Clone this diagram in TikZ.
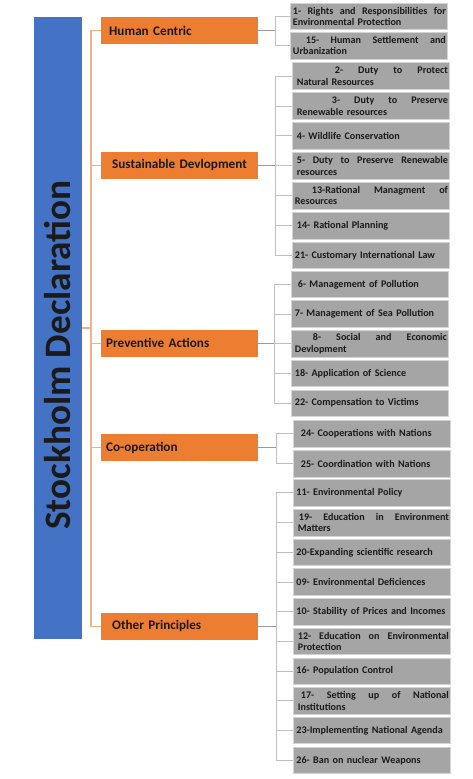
\documentclass[tikz,border=0pt]{standalone}
\usepackage{fontspec}
\setmainfont{Carlito}
\definecolor{bluebg}{HTML}{4472C4}
\definecolor{orng}{HTML}{ED7D31}
\definecolor{olin}{HTML}{F4B183}
\definecolor{gfill}{HTML}{A5A5A5}
\definecolor{gedge}{HTML}{D4D4D4}
\definecolor{glin}{HTML}{BFBFBF}
\definecolor{glind}{HTML}{9A9A9A}
\definecolor{tdark}{HTML}{1A1A1A}
\newlength\gw
\setlength\gw{154bp}
\newcommand\jl[2]{\hbox to \gw{\hspace*{#1}#2}}
\newcommand\h{\hfill}
\begin{document}
\begin{tikzpicture}[x=1bp,y=-1bp,
  gbox/.style={rectangle, fill=gfill, draw=gedge, line width=0.8bp, anchor=north west,
    minimum height=26.5bp, text width=154bp, inner xsep=1.5bp, inner ysep=0bp, align=left,
    font=\bfseries\fontsize{10.15}{11.4}\selectfont, text=tdark},
  obox/.style={rectangle, fill=orng, anchor=north west, minimum height=27bp,
    text width=147bp, inner xsep=5bp, inner ysep=0bp, align=left,
    font=\bfseries\fontsize{13.2}{15}\selectfont, text=tdark},
  oline/.style={draw=olin, line width=1.2bp},
  gline/.style={draw=glin, line width=1bp},
  gdline/.style={draw=glind, line width=1.3bp}]
\useasboundingbox (0,0) rectangle (473,779);
% title
\node[rectangle, fill=bluebg, rotate=90, minimum width=622bp, minimum height=48bp, inner sep=0pt,
  font=\bfseries\fontsize{37.4}{40}\selectfont, text=tdark] (title) at (58,328)
  {Stockholm Declaration\hspace*{54bp}};
% orange category boxes
\node[obox] (hc) at (101,17) {\hspace*{3bp}Human Centric};
\node[obox] (sd) at (101,151.5) {\hspace*{6bp}Sustainable Devlopment};
\node[obox] (pa) at (101,329.5) {Preventive Actions};
\node[obox] (co) at (101,434) {Co-operation};
\node[obox] (op) at (101,612.5) {\hspace*{6bp}Other Principles};
% orange connectors
\coordinate (ob) at (91,328);
\draw[oline] (title.south) -- (ob);
\draw[oline] (hc.west) -| (ob) |- (op.west);
\foreach \n in {sd,pa,co} \draw[oline] (ob) |- (\n.west);
% Human centric group
\node[gbox] (g1) at (290,3) {\jl{1bp}{1-\h Rights\h and\h Responsibilities\h for}\\\hspace*{1bp}Environmental Protection};
\node[gbox] (g15) at (290,32) {\jl{14bp}{15-\h Human\h Settlement\h and}\\\hspace*{1bp}Urbanization};
% Sustainable group
\node[gbox] (g2) at (292,62.5) {\jl{41bp}{2-\h Duty\h to\h Protect}\\\hspace*{3bp}Natural Resources};
\node[gbox] (g3) at (292,92.4) {\jl{38bp}{3-\h Duty\h to\h Preserve}\\\hspace*{3bp}Renewable resources};
\node[gbox] (g4) at (292,122.3) {\hspace*{3bp}4- Wildlife Conservation};
\node[gbox] (g5) at (292,152.2) {\jl{3bp}{5-\h Duty\h to\h Preserve\h Renewable}\\\hspace*{3bp}resources};
\node[gbox] (g13) at (292,182.1) {\jl{18bp}{13-Rational\h Managment\h of}\\\hspace*{1bp}Resources};
\node[gbox] (g14) at (292,212) {\hspace*{3bp}14- Rational Planning};
\node[gbox] (g21) at (292,241.9) {\hspace*{1bp}21- Customary International Law};
% Preventive group
\node[gbox] (g6) at (291,270.7) {\hspace*{5bp}6- Management of Pollution};
\node[gbox] (g7) at (291,300.4) {\hspace*{2bp}7- Management of Sea Pollution};
\node[gbox] (g8) at (291,330.1) {\jl{20bp}{8-\h Social\h and\h Economic}\\\hspace*{2bp}Devlopment};
\node[gbox] (g18) at (291,359.8) {\hspace*{2bp}18- Application of Science};
\node[gbox] (g22) at (291,389.5) {\hspace*{2bp}22- Compensation to Victims};
% Co-operation group
\node[gbox] (g24) at (293,420) {\hspace*{6bp}24- Cooperations with Nations};
\node[gbox] (g25) at (293,450) {\hspace*{6bp}25- Coordination with Nations};
% Other principles group
\node[gbox] (g11) at (293,479.3) {\hspace*{1.5bp}11- Environmental Policy};
\node[gbox] (g19) at (293,509.0) {\jl{4bp}{19-\h Education\h in\h Environment}\\\hspace*{3bp}Matters};
\node[gbox] (g20) at (293,538.7) {\hspace*{1.5bp}20-Expanding scientific research};
\node[gbox] (g09) at (293,568.4) {\hspace*{1.5bp}09- Environmental Deficiences};
\node[gbox] (g10) at (293,598.1) {\mbox{\hspace*{1.5bp}10- Stability of Prices and Incomes}};
\node[gbox] (g12) at (293,627.8) {\jl{3bp}{12-\h Education\h on\h Environmental}\\\hspace*{3bp}Protection};
\node[gbox] (g16) at (293,657.5) {\hspace*{1.5bp}16- Population Control};
\node[gbox] (g17) at (293,687.2) {\jl{6bp}{17-\h Setting\h up\h of\h National}\\\hspace*{3bp}Institutions};
\node[gbox] (g23) at (293,716.9) {\hspace*{1.5bp}23-Implementing National Agenda};
\node[gbox] (g26) at (293,746.6) {\hspace*{1.5bp}26- Ban on nuclear Weapons};
% trunks
\coordinate (t1) at (275,30);
\coordinate (t2) at (275,165);
\coordinate (t3) at (274,343);
\coordinate (t4) at (276,447);
\coordinate (t5) at (276,626);
\foreach \g in {g1,g15} \draw[gline] (hc.east -| t1) |- (\g.west);
\foreach \g in {g2,g3,g4,g5,g13,g14,g21} \draw[gline] (sd.east -| t2) |- (\g.west);
\foreach \g in {g6,g7,g8,g18,g22} \draw[gline] (pa.east -| t3) |- (\g.west);
\foreach \g in {g24,g25} \draw[gline] (co.east -| t4) |- (\g.west);
\foreach \g in {g11,g19,g20,g09,g10,g12,g16,g17,g23,g26} \draw[gline] (op.east -| t5) |- (\g.west);
\draw[gdline] (hc.east) -- (hc.east -| t1);
\draw[gdline] (sd.east) -- (sd.east -| t2);
\draw[gdline] (pa.east) -- (pa.east -| t3);
\draw[gdline] (co.east) -- (co.east -| t4);
\draw[gdline] (op.east) -- (op.east -| t5);
\end{tikzpicture}
\end{document}
